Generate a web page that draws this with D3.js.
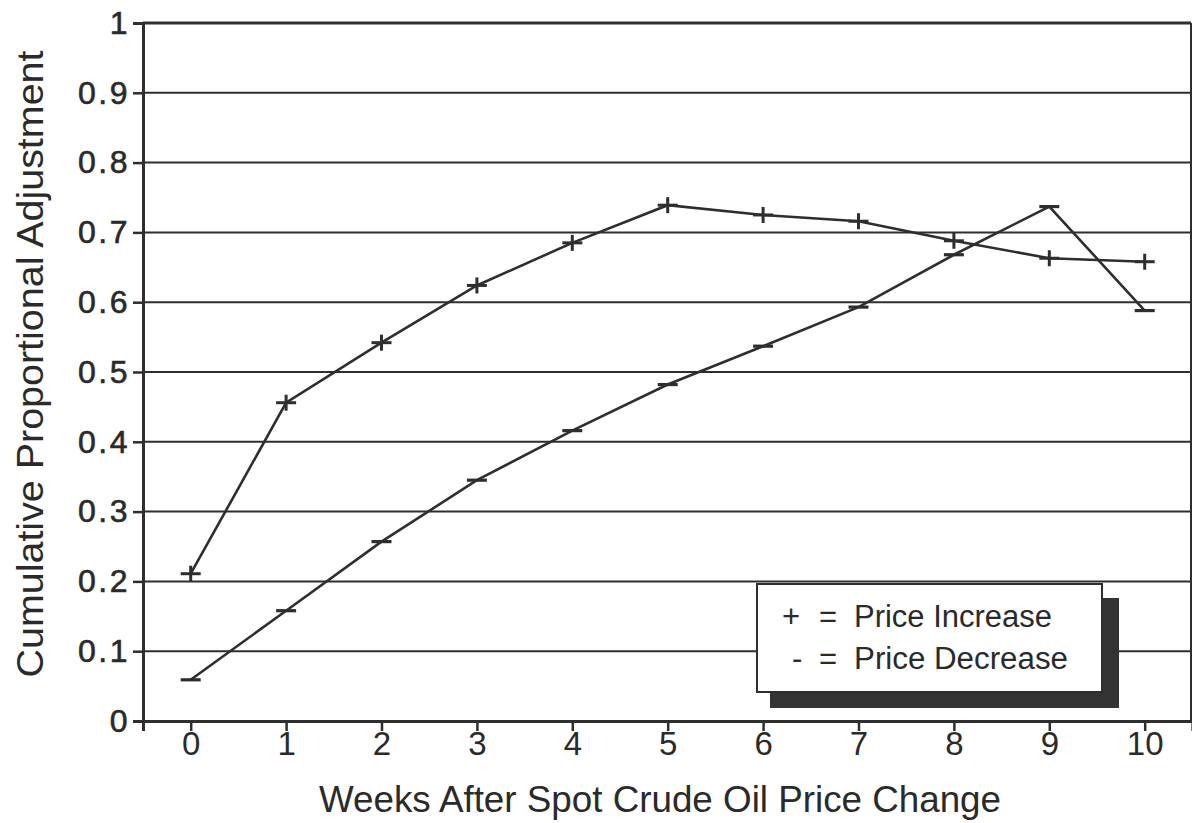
<!DOCTYPE html>
<html>
<head>
<meta charset="utf-8">
<script src="https://cdn.jsdelivr.net/npm/d3@7"></script>
<style>
  body { margin: 0; background: #fff; }
  svg { display: block; }
  text { font-family: "Liberation Sans", Arial, sans-serif; fill: #2a2a2a; }
</style>
</head>
<body>
<svg id="chart" width="1192" height="823"></svg>
<script>
const weeks = [0, 1, 2, 3, 4, 5, 6, 7, 8, 9, 10];
const priceIncrease = [0.211, 0.456, 0.542, 0.624, 0.685, 0.739, 0.725, 0.716, 0.688, 0.663, 0.658];
const priceDecrease = [0.059, 0.158, 0.257, 0.345, 0.416, 0.482, 0.537, 0.593, 0.668, 0.737, 0.588];
const yTicks = [0, 0.1, 0.2, 0.3, 0.4, 0.5, 0.6, 0.7, 0.8, 0.9, 1];
const yTickLabels = ["0", "0.1", "0.2", "0.3", "0.4", "0.5", "0.6", "0.7", "0.8", "0.9", "1"];
const xTitle = "Weeks After Spot Crude Oil Price Change";
const yTitle = "Cumulative Proportional Adjustment";
const legendItems = [
  { sym: "+", label: "Price Increase" },
  { sym: "-", label: "Price Decrease" }
];

(function () {
const ink = "#2e2e2e";
const svg = d3.select("#chart");
const pLeft = 143, pRight = 1191, pTop = 23, pBottom = 721;

const x = d3.scaleLinear().domain([-0.5, 10.5]).range([pLeft, pLeft + 11 * 95.4]);
const y = d3.scaleLinear().domain([0, 1]).range([pBottom, pTop]);

// gridlines
svg.append("g").selectAll("line").data(yTicks.slice(1)).join("line")
  .attr("x1", pLeft).attr("x2", pRight)
  .attr("y1", d => y(d)).attr("y2", d => y(d))
  .attr("stroke", ink).attr("stroke-width", 2);

// right border
svg.append("line").attr("x1", pRight).attr("x2", pRight).attr("y1", pTop).attr("y2", pBottom)
  .attr("stroke", ink).attr("stroke-width", 2);

// y axis
const yAxis = d3.axisLeft(y).tickValues(yTicks)
  .tickFormat((d, i) => yTickLabels[i]).tickSize(10).tickPadding(3);
const gy = svg.append("g").attr("transform", `translate(${pLeft},0)`).call(yAxis);
gy.select(".domain").attr("stroke", ink).attr("stroke-width", 3);
gy.selectAll(".tick line").attr("stroke", ink).attr("stroke-width", 2.5);
gy.selectAll(".tick text").attr("font-size", 32)
  .attr("fill", "#2a2a2a").attr("letter-spacing", "2.5px")
  .attr("stroke", "#2a2a2a").attr("stroke-width", 0.6)
  .attr("font-family", "'Liberation Sans', Arial, sans-serif");

// x axis
const xAxis = d3.axisBottom(x).tickValues(weeks).tickSize(10).tickPadding(1)
  .tickFormat(d3.format("d"));
const gx = svg.append("g").attr("transform", `translate(0,${pBottom})`).call(xAxis);
gx.select(".domain").attr("stroke", ink).attr("stroke-width", 3);
gx.selectAll(".tick line").attr("stroke", ink).attr("stroke-width", 2.5);
gx.selectAll(".tick text").attr("font-size", 33)
  .attr("fill", "#2a2a2a")
  .attr("font-family", "'Liberation Sans', Arial, sans-serif");

// top border
svg.append("line").attr("x1", pLeft).attr("x2", pRight).attr("y1", pTop).attr("y2", pTop)
  .attr("stroke", ink).attr("stroke-width", 3);

// lines
const line = d3.line().x((d, i) => x(weeks[i])).y(d => y(d));
svg.append("path").datum(priceIncrease).attr("d", line)
  .attr("fill", "none").attr("stroke", ink).attr("stroke-width", 2.6);
svg.append("path").datum(priceDecrease).attr("d", line)
  .attr("fill", "none").attr("stroke", ink).attr("stroke-width", 2.6);

// markers
const plus = svg.append("g").selectAll("g").data(priceIncrease).join("g")
  .attr("transform", (d, i) => `translate(${x(weeks[i])},${y(d)})`);
plus.append("line").attr("x1", -10).attr("x2", 10).attr("y1", 0).attr("y2", 0)
  .attr("stroke", ink).attr("stroke-width", 3);
plus.append("line").attr("x1", 0).attr("x2", 0).attr("y1", -8).attr("y2", 8)
  .attr("stroke", ink).attr("stroke-width", 3);

svg.append("g").selectAll("line").data(priceDecrease).join("line")
  .attr("x1", (d, i) => x(weeks[i]) - 10).attr("x2", (d, i) => x(weeks[i]) + 10)
  .attr("y1", d => y(d)).attr("y2", d => y(d))
  .attr("stroke", ink).attr("stroke-width", 3.2);

// axis titles
svg.append("text").attr("x", 660).attr("y", 812).attr("text-anchor", "middle")
  .attr("font-size", 37).attr("textLength", 682).attr("lengthAdjust", "spacingAndGlyphs")
  .text(xTitle);
svg.append("text").attr("transform", "translate(43,364) rotate(-90)")
  .attr("text-anchor", "middle").attr("font-size", 36)
  .attr("textLength", 627).attr("lengthAdjust", "spacingAndGlyphs")
  .text(yTitle);

// legend
const lg = svg.append("g");
lg.append("rect").attr("x", 770).attr("y", 598).attr("width", 349).attr("height", 110)
  .attr("fill", "#333");
lg.append("rect").attr("x", 757).attr("y", 584).attr("width", 345).attr("height", 108)
  .attr("fill", "#fff").attr("stroke", ink).attr("stroke-width", 2);
legendItems.forEach((it, i) => {
  const by = 627 + i * 42;
  lg.append("text").attr("x", i === 0 ? 782 : 792).attr("y", by).attr("font-size", 31).text(it.sym);
  lg.append("text").attr("x", 819).attr("y", by).attr("font-size", 31).text("=");
  lg.append("text").attr("x", 854).attr("y", by).attr("font-size", 31)
    .attr("textLength", i === 0 ? 198 : 214).attr("lengthAdjust", "spacingAndGlyphs").text(it.label);
});
})();
</script>
</body>
</html>
